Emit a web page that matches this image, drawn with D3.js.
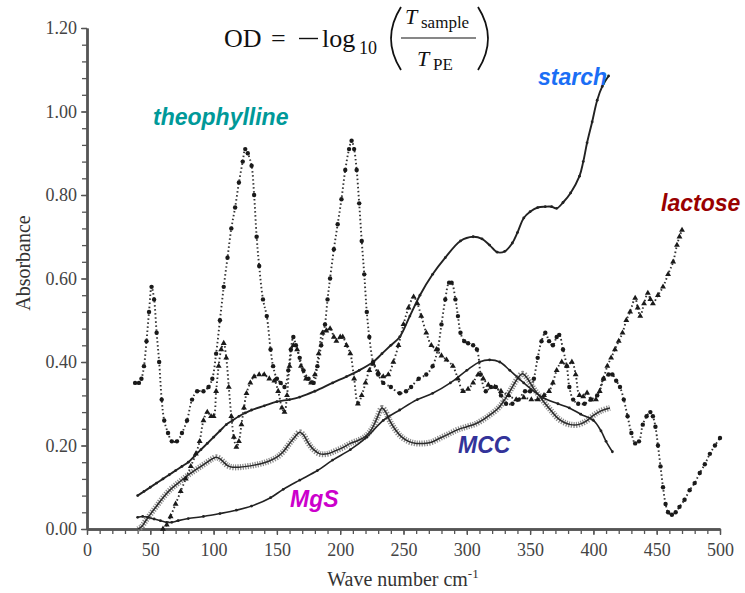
<!DOCTYPE html>
<html>
<head>
<meta charset="utf-8">
<script src="https://cdn.jsdelivr.net/npm/d3@7"></script>
<style>
  html, body { margin: 0; padding: 0; background: #fff; }
  svg { display: block; }
</style>
</head>
<body>
<div id="chart"></div>
<script>
// tick labels
const xTicks = [0, 50, 100, 150, 200, 250, 300, 350, 400, 450, 500];
const yTicks = [0, 0.2, 0.4, 0.6, 0.8, 1.0, 1.2];

// spectra, [wave number, absorbance]
const theophylline = [[38,0.35],[41,0.35],[43,0.36],[45,0.39],[47,0.45],[49,0.52],[51,0.58],[53,0.55],[55,0.47],[57,0.40],[59,0.31],[61,0.26],[64,0.23],[67,0.21],[71,0.21],[75,0.23],[79,0.26],[83,0.31],[87,0.33],[92,0.33],[96,0.34],[99,0.36],[102,0.42],[105,0.50],[108,0.58],[111,0.65],[114,0.72],[117,0.77],[120,0.83],[123,0.88],[125,0.91],[127,0.90],[130,0.87],[132,0.80],[134,0.70],[136,0.63],[139,0.55],[142,0.51],[145,0.43],[147,0.39],[150,0.36],[153,0.35],[156,0.34],[159,0.38],[161,0.43],[163,0.46],[165,0.44],[168,0.41],[171,0.38],[175,0.36],[179,0.35],[182,0.39],[185,0.44],[188,0.49],[190,0.55],[192,0.60],[195,0.67],[198,0.73],[201,0.79],[204,0.86],[207,0.91],[209,0.93],[211,0.91],[213,0.86],[215,0.78],[217,0.69],[219,0.61],[221,0.52],[223,0.46],[226,0.40],[230,0.37],[234,0.35],[240,0.34],[247,0.325],[252,0.33],[256,0.34],[262,0.36],[268,0.37],[273,0.39],[277,0.43],[280,0.49],[283,0.55],[286,0.59],[288,0.59],[291,0.55],[293,0.51],[295,0.47],[298,0.45],[301,0.445],[305,0.44],[308,0.43],[311,0.37],[315,0.33],[319,0.34],[323,0.34],[327,0.32],[331,0.30],[336,0.30],[341,0.31],[346,0.33],[350,0.33],[353,0.36],[356,0.41],[359,0.45],[362,0.47],[365,0.45],[368,0.44],[371,0.46],[373,0.465],[376,0.43],[379,0.39],[381,0.34],[384,0.31],[388,0.30],[393,0.30],[398,0.31],[403,0.32],[408,0.36],[412,0.37],[415,0.37],[418,0.355],[421,0.34],[424,0.31],[427,0.27],[430,0.23],[433,0.205],[436,0.21],[439,0.25],[442,0.27],[445,0.28],[447,0.27],[449,0.245],[451,0.20],[453,0.15],[455,0.10],[457,0.06],[459,0.04],[462,0.034],[465,0.04],[468,0.053],[472,0.07],[476,0.093],[480,0.11],[484,0.134],[488,0.155],[492,0.18],[496,0.20],[500,0.218]];

const lactose = [[60,0.0],[63,0.01],[66,0.03],[70,0.06],[74,0.09],[78,0.12],[82,0.15],[86,0.18],[89,0.21],[92,0.26],[95,0.28],[98,0.27],[100,0.27],[102,0.33],[104,0.39],[106,0.43],[108,0.445],[110,0.41],[112,0.34],[114,0.27],[116,0.22],[118,0.196],[120,0.21],[122,0.25],[124,0.29],[126,0.325],[129,0.35],[132,0.365],[136,0.37],[140,0.37],[144,0.36],[148,0.355],[151,0.33],[154,0.29],[156,0.28],[158,0.32],[160,0.39],[163,0.44],[166,0.43],[169,0.39],[173,0.36],[177,0.35],[180,0.37],[183,0.42],[186,0.47],[189,0.475],[192,0.48],[195,0.46],[197,0.45],[200,0.46],[202,0.46],[205,0.44],[208,0.42],[211,0.36],[214,0.30],[217,0.32],[220,0.35],[223,0.38],[226,0.395],[230,0.375],[234,0.365],[238,0.37],[242,0.40],[246,0.44],[250,0.49],[254,0.53],[258,0.556],[261,0.54],[264,0.51],[268,0.47],[272,0.44],[276,0.43],[280,0.415],[284,0.405],[289,0.39],[293,0.36],[297,0.33],[301,0.335],[305,0.35],[309,0.37],[313,0.36],[317,0.345],[322,0.34],[327,0.33],[333,0.32],[339,0.31],[345,0.315],[351,0.31],[356,0.31],[361,0.32],[365,0.33],[368,0.35],[371,0.38],[375,0.40],[379,0.39],[383,0.40],[386,0.37],[389,0.32],[392,0.317],[395,0.326],[398,0.31],[402,0.31],[405,0.33],[408,0.36],[411,0.39],[414,0.41],[417,0.43],[420,0.45],[423,0.47],[426,0.50],[429,0.52],[433,0.553],[435,0.53],[437,0.51],[440,0.54],[443,0.565],[445,0.55],[447,0.54],[451,0.56],[455,0.58],[459,0.61],[463,0.64],[466,0.68],[468,0.70],[470,0.716]];

const starch = [[40,0.08],[45,0.09],[50,0.10],[55,0.11],[60,0.12],[65,0.13],[70,0.14],[75,0.15],[80,0.16],[85,0.175],[90,0.19],[95,0.205],[100,0.22],[105,0.235],[110,0.25],[115,0.26],[120,0.27],[125,0.278],[130,0.285],[140,0.295],[150,0.305],[160,0.31],[168,0.316],[180,0.33],[194,0.35],[205,0.365],[215,0.38],[226,0.40],[233,0.42],[240,0.44],[247,0.46],[255,0.51],[263,0.56],[273,0.61],[283,0.65],[295,0.69],[305,0.70],[312,0.695],[318,0.68],[324,0.663],[330,0.665],[336,0.685],[340,0.71],[345,0.745],[350,0.76],[356,0.77],[362,0.772],[367,0.772],[371,0.768],[376,0.782],[382,0.805],[389,0.845],[392,0.88],[395,0.925],[399,0.975],[403,1.027],[407,1.06],[412,1.085]];

const mgs = [[40,0.028],[44,0.03],[48,0.028],[53,0.024],[58,0.02],[63,0.016],[67,0.016],[72,0.02],[80,0.025],[92,0.03],[105,0.037],[118,0.045],[130,0.055],[145,0.075],[155,0.095],[168,0.117],[182,0.14],[194,0.165],[208,0.19],[221,0.22],[234,0.26],[247,0.285],[261,0.31],[273,0.325],[287,0.35],[300,0.38],[310,0.40],[318,0.405],[326,0.40],[334,0.38],[345,0.35],[360,0.315],[372,0.30],[381,0.29],[390,0.275],[400,0.26],[406,0.235],[410,0.21],[415,0.185]];

const mcc = [[40,0.0],[43,0.005],[46,0.018],[50,0.035],[55,0.055],[60,0.075],[66,0.095],[72,0.11],[78,0.125],[84,0.138],[90,0.15],[95,0.16],[99,0.168],[102,0.172],[105,0.168],[108,0.16],[111,0.152],[115,0.148],[120,0.148],[126,0.15],[132,0.153],[138,0.157],[144,0.163],[150,0.172],[155,0.185],[160,0.205],[164,0.22],[168,0.232],[171,0.225],[175,0.205],[179,0.19],[184,0.18],[190,0.18],[196,0.187],[202,0.195],[208,0.205],[214,0.212],[220,0.222],[225,0.24],[229,0.265],[233,0.29],[236,0.28],[239,0.26],[243,0.24],[248,0.222],[254,0.21],[260,0.205],[266,0.205],[272,0.208],[279,0.218],[286,0.228],[293,0.238],[300,0.245],[307,0.252],[313,0.262],[319,0.275],[325,0.29],[330,0.31],[335,0.335],[340,0.36],[344,0.372],[348,0.36],[352,0.34],[357,0.32],[362,0.30],[367,0.282],[372,0.265],[377,0.255],[382,0.25],[388,0.25],[394,0.258],[400,0.272],[406,0.283],[413,0.29]];

const svgWidth = 745,
      svgHeight = 593;

const margin = {
  top: 28,
  right: 25,
  bottom: 64,
  left: 87
};

const serif = '"Liberation Serif", "Times New Roman", serif',
      sans = '"Liberation Sans", Arial, sans-serif';

const svg = d3.select('#chart')
              .append('svg')
              .attr('width', svgWidth)
              .attr('height', svgHeight);

const x = d3.scaleLinear()
            .domain([0, 500])
            .range([margin.left, svgWidth - margin.right]);
const y = d3.scaleLinear()
            .domain([0, 1.2])
            .range([svgHeight - margin.bottom, margin.top]);

// axes: minor ticks first, then labelled majors
const xMinor = d3.axisBottom(x).tickValues(d3.range(0, 501, 10)).tickSize(5).tickFormat('').tickSizeOuter(0);
const xMajor = d3.axisBottom(x).tickValues(xTicks).tickSize(6).tickPadding(8).tickFormat(d3.format('d')).tickSizeOuter(0);
const yMinor = d3.axisLeft(y).tickValues(d3.range(0, 31).map(i => i * 0.04)).tickSize(5).tickFormat('').tickSizeOuter(0);
const yMajor = d3.axisLeft(y).tickValues(yTicks).tickSize(6).tickPadding(4).tickFormat(d3.format('.2f')).tickSizeOuter(0);

const xg = svg.append('g').attr('transform', `translate(0,${y(0)})`);
xg.append('g').call(xMinor);
xg.append('g').call(xMajor);
const yg = svg.append('g').attr('transform', `translate(${x(0)},0)`);
yg.append('g').call(yMinor);
yg.append('g').call(yMajor);

svg.selectAll('.domain').attr('stroke', '#555').attr('stroke-width', 2.4);
svg.selectAll('.tick line').attr('stroke', '#555').attr('stroke-width', 1.3);
svg.selectAll('.tick text')
   .attr('font-family', serif)
   .attr('font-size', 18)
   .attr('fill', '#444');

// axis titles
svg.append('text')
   .attr('transform', `translate(30,263) rotate(-90)`)
   .attr('text-anchor', 'middle')
   .attr('font-family', serif)
   .attr('font-size', 20)
   .attr('fill', '#333')
   .text('Absorbance');

const xt = svg.append('text')
   .attr('x', 403)
   .attr('y', 586)
   .attr('text-anchor', 'middle')
   .attr('font-family', serif)
   .attr('font-size', 20)
   .attr('fill', '#333');
xt.append('tspan').text('Wave number cm');
xt.append('tspan').attr('dy', -8).attr('font-size', 13).text('-1');

// series
const line = d3.line()
               .x(d => x(d[0]))
               .y(d => y(d[1]))
               .curve(d3.curveCatmullRom);

const plot = svg.append('g');

// MCC: grey hatched band
plot.append('path')
    .attr('d', line(mcc))
    .attr('fill', 'none')
    .attr('stroke', '#8a8a8a')
    .attr('stroke-width', 6)
    .attr('stroke-dasharray', '1.2,1.3');
plot.append('path')
    .attr('d', line(mcc))
    .attr('fill', 'none')
    .attr('stroke', '#2a2a2a')
    .attr('stroke-width', 1.5);

// MgS and starch: solid
[[mgs, 1.6], [starch, 1.9]].forEach(([data, w]) => {
  plot.append('path')
      .attr('d', line(data))
      .attr('fill', 'none')
      .attr('stroke', '#222')
      .attr('stroke-width', w);
  plot.append('g')
      .selectAll('circle')
      .data(data)
      .enter()
      .append('circle')
      .attr('cx', d => x(d[0]))
      .attr('cy', d => y(d[1]))
      .attr('r', 1.4)
      .attr('fill', '#222');
});

// dotted spectra
[theophylline, lactose].forEach(data => {
  plot.append('path')
      .attr('d', line(data))
      .attr('fill', 'none')
      .attr('stroke', '#333')
      .attr('stroke-width', 1.9)
      .attr('stroke-dasharray', '1.5,2.5');
});

plot.append('g')
    .selectAll('circle')
    .data(theophylline)
    .enter()
    .append('circle')
    .attr('cx', d => x(d[0]))
    .attr('cy', d => y(d[1]))
    .attr('r', 2.2)
    .attr('fill', '#1a1a1a');

plot.append('g')
    .selectAll('path')
    .data(lactose)
    .enter()
    .append('path')
    .attr('transform', d => `translate(${x(d[0])},${y(d[1])})`)
    .attr('d', d3.symbol(d3.symbolTriangle, 15))
    .attr('fill', '#1a1a1a');

// series names
const names = [
  {text: 'theophylline', x: 153, y: 125, color: '#009999'},
  {text: 'starch', x: 538, y: 85, color: '#1a6ef5'},
  {text: 'lactose', x: 661, y: 211, color: '#990000'},
  {text: 'MCC', x: 458, y: 453, color: '#333399'},
  {text: 'MgS', x: 290, y: 507, color: '#cc00cc'}
];
svg.append('g')
   .selectAll('text')
   .data(names)
   .enter()
   .append('text')
   .attr('x', d => d.x)
   .attr('y', d => d.y)
   .attr('font-family', sans)
   .attr('font-size', 23)
   .attr('font-weight', 'bold')
   .attr('font-style', 'italic')
   .attr('fill', d => d.color)
   .text(d => d.text);

// formula OD = -log10(Tsample / TPE)
const f = svg.append('g')
             .attr('font-family', serif)
             .attr('fill', '#111');
f.append('text').attr('x', 224).attr('y', 47).attr('font-size', 26).text('OD');
f.append('text').attr('x', 271).attr('y', 47).attr('font-size', 26).text('=');
f.append('line').attr('x1', 299).attr('x2', 318).attr('y1', 38.5).attr('y2', 38.5).attr('stroke', '#111').attr('stroke-width', 1.4);
f.append('text').attr('x', 322).attr('y', 47).attr('font-size', 26).text('log');
f.append('text').attr('x', 359).attr('y', 54).attr('font-size', 18).text('10');
f.append('path').attr('d', 'M401,7 Q381,38.5 401,70').attr('fill', 'none').attr('stroke', '#111').attr('stroke-width', 1.8);
f.append('path').attr('d', 'M478,7 Q498,38.5 478,70').attr('fill', 'none').attr('stroke', '#111').attr('stroke-width', 1.8);
f.append('text').attr('x', 405).attr('y', 24).attr('font-size', 22).attr('font-style', 'italic').text('T');
f.append('text').attr('x', 421).attr('y', 28).attr('font-size', 17).text('sample');
f.append('line').attr('x1', 401).attr('x2', 476).attr('y1', 38).attr('y2', 38).attr('stroke', '#111').attr('stroke-width', 1.2);
f.append('text').attr('x', 417).attr('y', 66).attr('font-size', 22).attr('font-style', 'italic').text('T');
f.append('text').attr('x', 433).attr('y', 70).attr('font-size', 17).text('PE');
</script>
</body>
</html>
